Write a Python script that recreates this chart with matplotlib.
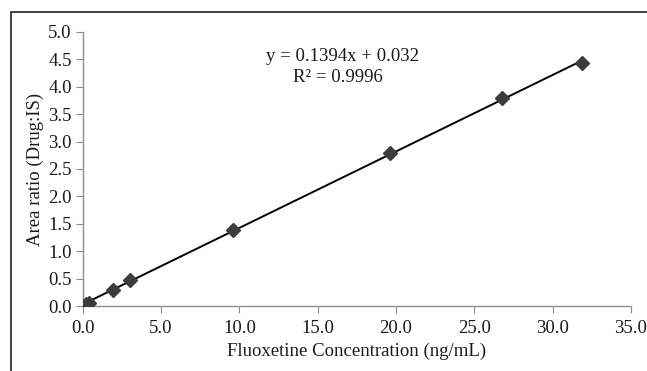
import numpy as np
import matplotlib.pyplot as plt
from matplotlib.patches import Rectangle

# calibration points
conc = [0.2, 0.4, 1.9, 3.0, 9.6, 19.6, 26.8, 31.9]
ratio = [0.03, 0.06, 0.29, 0.47, 1.38, 2.80, 3.79, 4.43]

SLOPE = 0.1394
INTERCEPT = 0.032
R2 = 0.9996

x_ticks = np.arange(0, 35.1, 5)
y_ticks = np.arange(0, 5.01, 0.5)

plt.rcParams["font.family"] = "Liberation Serif"
FS = 13.5
TXT = "#1a1a1a"

fig = plt.figure(figsize=(6.47, 3.71), dpi=100)
ax = fig.add_axes([0.128, 0.175, 0.847, 0.739])

# outer frame, only top and left visible in the crop
fig.patches.append(Rectangle((11 / 647, -0.1), 1.2, 1 - 12 / 371 + 0.1,
                             transform=fig.transFigure, fill=False,
                             edgecolor="#222222", linewidth=1.2))

xs = np.array([0.0, max(conc)])
ax.plot(xs, SLOPE * xs + INTERCEPT, color="black", linewidth=1.4, zorder=2)
ax.plot(conc, ratio, linestyle="none", marker="D", markersize=7,
        color="#3c3c3c", zorder=3)

ax.set_xlim(0, 35)
ax.set_ylim(0, 5)
ax.set_xticks(x_ticks)
ax.set_yticks(y_ticks)
ax.set_xticklabels([f"{v:.1f}" for v in x_ticks])
ax.set_yticklabels([f"{v:.1f}" for v in y_ticks])

for side in ["top", "right"]:
    ax.spines[side].set_visible(False)
for side in ["left", "bottom"]:
    ax.spines[side].set_color("#8c8c8c")
    ax.spines[side].set_linewidth(1.0)
ax.tick_params(direction="out", length=5, color="#8c8c8c", labelsize=FS,
               labelcolor=TXT)
ax.tick_params(axis="x", pad=5)
ax.tick_params(axis="y", pad=3)

ax.set_xlabel("Fluoxetine Concentration (ng/mL)", fontsize=FS, color=TXT,
              labelpad=4)
ax.set_ylabel("Area ratio (Drug:IS)", fontsize=FS, color=TXT, labelpad=3)

ax.text(21.5, 4.56, f"y = {SLOPE}x + {INTERCEPT}", fontsize=FS, color=TXT,
        ha="right", va="center")
ax.text(13.4, 4.16, f"R² = {R2}", fontsize=FS, color=TXT,
        ha="left", va="center")

fig.savefig("out.png", dpi=100)
